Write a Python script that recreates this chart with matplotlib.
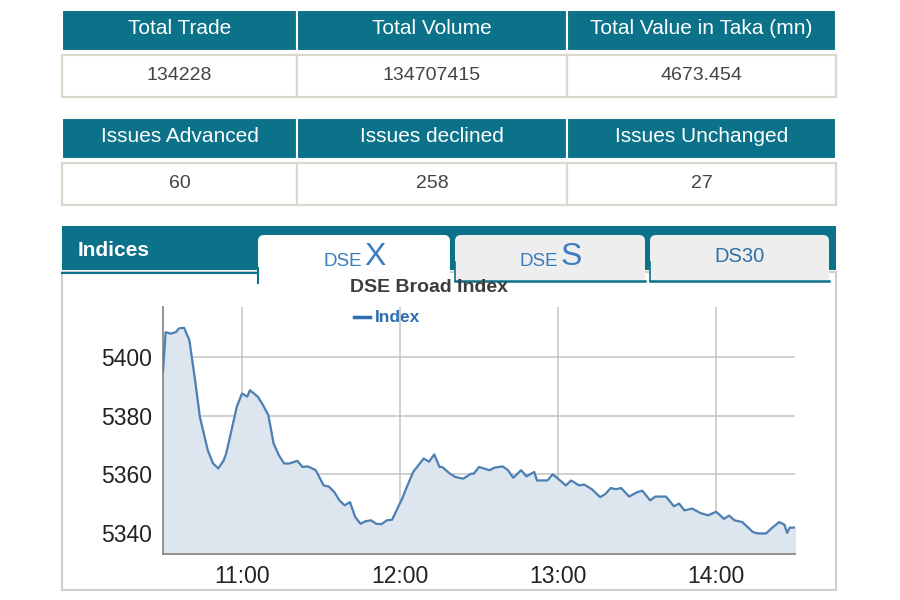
# Import necessary libraries
import matplotlib
matplotlib.use("Agg")
import matplotlib.pyplot as plt
from matplotlib.patches import Rectangle, FancyBboxPatch

plt.rcParams['font.family'] = ['Liberation Sans', 'DejaVu Sans']

# Summary tables
trade_headers = ['Total Trade', 'Total Volume', 'Total Value in Taka (mn)']
trade_values = ['134228', '134707415', '4673.454']
issue_headers = ['Issues Advanced', 'Issues declined', 'Issues Unchanged']
issue_values = ['60', '258', '27']

# DSEX intraday index
times = ['10:30', '10:31', '10:33', '10:35', '10:36', '10:38', '10:40', '10:42', '10:44', '10:47',
         '10:49', '10:51', '10:53', '10:54', '10:56', '10:58', '11:00', '11:02', '11:03', '11:06',
         '11:08', '11:10', '11:12', '11:14', '11:16', '11:18', '11:21', '11:23', '11:25', '11:28',
         '11:31', '11:33', '11:35', '11:37', '11:39', '11:41', '11:43', '11:45', '11:47', '11:49',
         '11:51', '11:53', '11:55', '11:57', '11:59', '12:01', '12:02', '12:05', '12:07', '12:09',
         '12:11', '12:13', '12:15', '12:16', '12:19', '12:21', '12:24', '12:27', '12:28', '12:30',
         '12:34', '12:36', '12:39', '12:41', '12:43', '12:46', '12:48', '12:51', '12:52', '12:56',
         '12:58', '13:00', '13:03', '13:05', '13:08', '13:10', '13:13', '13:16', '13:18', '13:20',
         '13:22', '13:24', '13:27', '13:30', '13:32', '13:35', '13:37', '13:41', '13:44', '13:46',
         '13:48', '13:51', '13:54', '13:57', '14:00', '14:01', '14:03', '14:05', '14:07', '14:10',
         '14:14', '14:16', '14:19', '14:21', '14:24', '14:26', '14:27', '14:28', '14:30']
index_values = [5395.0, 5408.5, 5408.0, 5408.6, 5409.8, 5410.0, 5405.8, 5393.3, 5379.6, 5368.2,
                5363.7, 5362.0, 5364.7, 5367.1, 5375.0, 5383.0, 5387.6, 5386.5, 5388.7, 5386.5,
                5383.6, 5380.2, 5370.5, 5366.5, 5363.7, 5363.7, 5364.6, 5362.5, 5362.7, 5361.4,
                5356.2, 5355.8, 5354.0, 5351.1, 5349.4, 5350.5, 5345.4, 5343.1, 5344.0, 5344.3,
                5343.1, 5343.0, 5344.3, 5344.5, 5348.3, 5352.0, 5354.4, 5360.8, 5363.1, 5365.4,
                5364.3, 5366.8, 5362.5, 5362.5, 5360.2, 5359.1, 5358.5, 5360.2, 5360.2, 5362.5,
                5361.4, 5362.3, 5362.7, 5361.4, 5358.8, 5361.4, 5359.3, 5360.8, 5357.9, 5357.9,
                5360.0, 5358.5, 5356.2, 5357.9, 5356.2, 5356.5, 5354.8, 5352.2, 5353.3, 5355.3,
                5354.9, 5355.3, 5352.4, 5353.9, 5354.4, 5351.1, 5352.4, 5352.4, 5349.1, 5350.0,
                5347.7, 5348.3, 5346.8, 5346.0, 5347.2, 5346.5, 5344.8, 5345.9, 5344.3, 5343.7,
                5340.3, 5339.8, 5339.8, 5341.5, 5343.7, 5342.8, 5340.0, 5341.8, 5341.8]
x_ticks = ['11:00', '12:00', '13:00', '14:00']
y_ticks = [5340, 5360, 5380, 5400]

TEAL = '#0b728a'
BORDER = '#d9d9cb'
BLUE = '#3b7cc0'


def to_hours(t):
    h, m = t.split(':')
    return int(h) + int(m) / 60


fig = plt.figure(figsize=(9, 6), dpi=100)
fig.patch.set_facecolor('white')

# Background canvas in pixel coordinates
bg = fig.add_axes([0, 0, 1, 1])
bg.set_xlim(0, 900)
bg.set_ylim(600, 0)
bg.axis('off')

col_edges = [62, 297, 567, 836]


def draw_table(headers, values, top):
    # header row
    for i, h in enumerate(headers):
        x0, x1 = col_edges[i], col_edges[i + 1]
        bg.add_patch(Rectangle((x0, top), x1 - x0, 41, facecolor=TEAL, edgecolor='white', lw=1.5))
        bg.text((x0 + x1) / 2, top + 18, h, color='white', fontsize=15,
                ha='center', va='center')
    # data row
    for i, v in enumerate(values):
        x0, x1 = col_edges[i], col_edges[i + 1]
        bg.add_patch(Rectangle((x0, top + 45), x1 - x0, 42, facecolor='white',
                               edgecolor=BORDER, lw=1.6))
        bg.text((x0 + x1) / 2, top + 66, v, color='#444444', fontsize=14,
                ha='center', va='center')


draw_table(trade_headers, trade_values, 10)
draw_table(issue_headers, issue_values, 118)

# Indices panel
bg.add_patch(Rectangle((62, 272), 774, 318, facecolor='white', edgecolor='#cfcfcf', lw=1.5))
bg.add_patch(Rectangle((62, 226), 774, 44, facecolor=TEAL, edgecolor='none'))
bg.plot([62, 258], [273, 273], color=TEAL, lw=1.5)
bg.text(78, 250, 'Indices', color='white', fontsize=15, fontweight='bold',
        ha='left', va='center')

tab_edges = [(258, 450), (455, 645), (650, 829)]
for i, (x0, x1) in enumerate(tab_edges):
    face = 'white' if i == 0 else '#eeeeee'
    bottom = 284 if i == 0 else 281
    bg.add_patch(FancyBboxPatch((x0, 235), x1 - x0, bottom - 235,
                                boxstyle='round,pad=0,rounding_size=6',
                                facecolor=face, edgecolor='none'))
    bg.add_patch(Rectangle((x0, 255), x1 - x0, bottom - 255, facecolor=face, edgecolor='none'))
    if i == 0:
        bg.plot([x0, x0], [268, 283], color=TEAL, lw=1.5)
    else:
        bg.plot([x0, x1], [281, 281], color=TEAL, lw=1.8)
        bg.plot([x0, x0], [262, 281], color=TEAL, lw=1.2)

# Tab labels
bg.text(343, 261, 'DSE', color=BLUE, fontsize=13.5, ha='center', va='center')
bg.text(375, 257, 'X', color=BLUE, fontsize=23, ha='center', va='center')
bg.text(539, 261, 'DSE', color=BLUE, fontsize=13.5, ha='center', va='center')
bg.text(571, 257, 'S', color=BLUE, fontsize=23, ha='center', va='center')
bg.text(739, 257, 'DS30', color='#2f6fa8', fontsize=14.5, ha='center', va='center')

# Chart title and legend
bg.text(429, 287, 'DSE Broad Index', color='#3d3d3d', fontsize=14, fontweight='bold',
        ha='center', va='center')
bg.plot([354, 370], [317, 317], color='#2e6ead', lw=2.5)
bg.text(375, 317, 'Index', color='#2e6ead', fontsize=12.5, fontweight='bold',
        ha='left', va='center')

# Line chart
ax = fig.add_axes([163 / 900, 46 / 600, 632 / 900, 247 / 600])
hours = [to_hours(t) for t in times]
ax.fill_between(hours, index_values, 5300, color='#dde5ee', zorder=1)
ax.plot(hours, index_values, color='#4d7fb3', lw=1.6, zorder=3)

ax.set_xlim(10.5, 14.5)
ax.set_ylim(5332.8, 5417.1)
ax.set_xticks([to_hours(t) for t in x_ticks])
ax.set_xticklabels(x_ticks)
ax.set_yticks(y_ticks)
ax.set_yticklabels([str(v) for v in y_ticks])
ax.tick_params(length=0, labelsize=16.5, colors='#222222', pad=8)
ax.grid(True, color='#c4c4c4', lw=1.1, zorder=0)
ax.set_axisbelow(True)
for side in ['top', 'right']:
    ax.spines[side].set_visible(False)
ax.spines['left'].set_color('#8a8a8a')
ax.spines['bottom'].set_color('#8a8a8a')
ax.spines['left'].set_linewidth(1.3)
ax.spines['bottom'].set_linewidth(1.3)
ax.set_facecolor('none')

plt.savefig('out.png', dpi=100)
